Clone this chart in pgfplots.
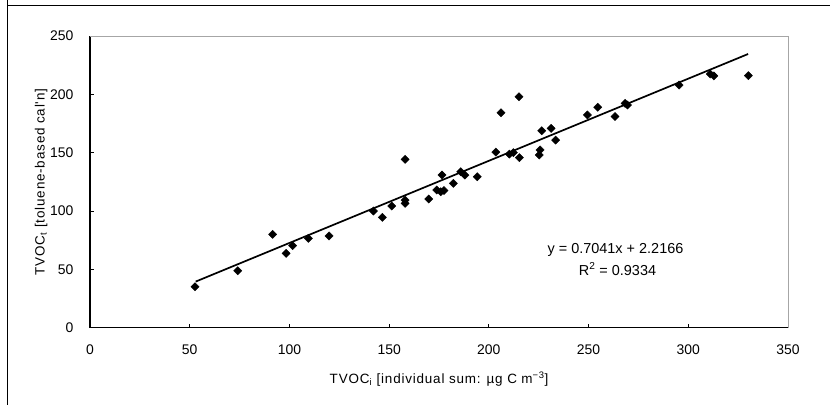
\documentclass[border=0pt]{standalone}
\usepackage{fontspec}
\setmainfont{Liberation Sans}
\setsansfont{Liberation Sans}
\newfontfamily\lsfont[LetterSpace=6]{Liberation Sans}
\usepackage{pgfplots}
\pgfplotsset{compat=1.18}
\begin{document}
\begin{tikzpicture}[x=1bp,y=1bp]
\fontsize{13}{15}\selectfont
\begin{axis}[
  at={(90bp,77.3bp)}, anchor=south west,
  scale only axis,
  width=698bp, height=291.7bp,
  xmin=0, xmax=350, ymin=0, ymax=250,
  xtick={0,50,...,350}, ytick={0,50,...,250},
  axis x line*=bottom, axis y line*=left,
  axis line style={black, line width=1.1bp, -},
  tick align=inside, major tick length=4bp,
  tick style={black, line width=0.8bp},
  /pgf/number format/assume math mode=true,
  ticklabel style={font=\fontsize{14}{16}\selectfont},
  xticklabel style={yshift=-13bp},
  yticklabel style={xshift=-12bp},
  xlabel={TVOC\textsubscript{i} [individual sum: µg C m\textsuperscript{−3}]},
  ylabel={TVOC\textsubscript{t} [toluene-based cal'n]},
  label style={font=\lsfont\fontsize{13.5}{15}\selectfont},
  xlabel style={yshift=-8bp},
  ylabel style={yshift=-6bp},
  clip=false,
]
\draw[gray!70, line width=0.6bp] (rel axis cs:0,1) -- (rel axis cs:1,1) -- (rel axis cs:1,0);
\addplot[only marks, mark=square*, mark size=2.9bp, mark options={rotate=45, fill=black, draw=black}] coordinates {
(52.7,35.1) (74.1,48.8) (91.6,80.0) (98.3,63.7) (101.6,70.3) (109.5,76.6) (119.9,78.6)
(142.1,100.0) (146.6,94.6) (151.3,104.3) (158.0,109.4) (158.0,106.6) (158.0,144.3)
(169.9,110.3) (173.9,118.0) (175.9,116.5) (176.5,130.8) (177.5,117.5) (182.2,123.7)
(185.9,133.7) (188.0,130.8) (194.2,129.4) (203.5,150.5) (206.1,184.2) (210.3,148.8)
(212.3,150.0) (215.1,198.0) (215.3,145.7) (225.3,148.0) (225.7,152.3) (226.5,168.8)
(231.2,170.8) (233.5,160.8) (249.4,182.3) (254.6,188.9) (263.3,181.0) (268.3,192.3)
(269.5,190.8) (295.4,208.0) (311.0,217.5) (312.8,215.8) (330.1,216.0)
};
\addplot[black, line width=1.7bp, no marks] coordinates {(53,39.53) (330,234.57)};
\node[font=\fontsize{14.5}{16}\selectfont] at (axis cs:263.5,66.6) {y = 0.7041x + 2.2166};
\node[font=\fontsize{14.5}{16}\selectfont] at (axis cs:264.5,50.3) {R\textsuperscript{2} = 0.9334};
\end{axis}
\draw[black, line width=0.9bp] (7bp,405bp) -- (7bp,400bp) -- (830bp,400bp);
\draw[black, line width=0.9bp] (7bp,400bp) -- (7bp,0bp);
\pgfresetboundingbox
\path (0bp,0bp) rectangle (830bp,405bp);
\end{tikzpicture}
\end{document}
